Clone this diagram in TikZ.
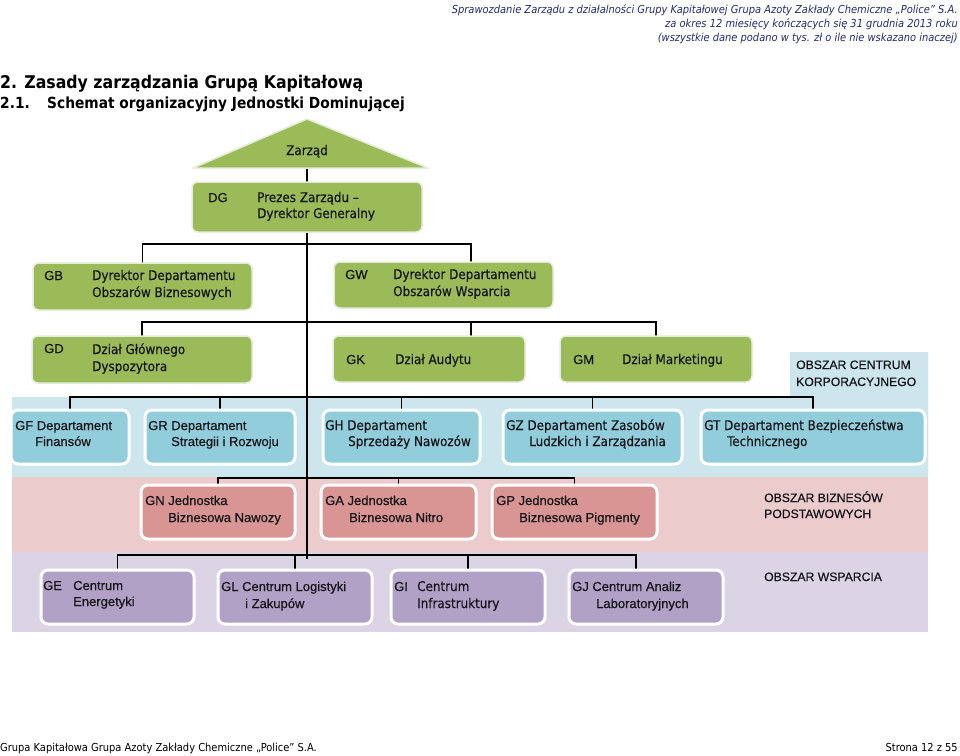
\documentclass[tikz,border=0pt]{standalone}
\usepackage{fontspec}
\newfontfamily\tah[FakeBold=0.35]{DejaVu Sans Condensed}
\newfontfamily\tahN{DejaVu Sans Condensed}
\newfontfamily\ari[FakeBold=0.45]{Liberation Sans}
\definecolor{boxgreen}{RGB}{155,187,89}
\definecolor{greenborder}{RGB}{230,236,218}
\definecolor{bandblue}{RGB}{205,230,237}
\definecolor{bandpink}{RGB}{235,203,204}
\definecolor{bandlav}{RGB}{218,212,228}
\definecolor{boxblue}{RGB}{146,205,220}
\definecolor{boxpink}{RGB}{217,149,148}
\definecolor{boxlav}{RGB}{178,161,199}
\definecolor{txtc}{RGB}{20,20,25}
\definecolor{headc}{RGB}{35,45,110}
\pgfdeclarelayer{bg}
\pgfsetlayers{bg,main}
\tikzset{
  gbox/.style={draw=greenborder, line width=1.5pt, fill=boxgreen, rounded corners=6pt, anchor=north west, inner sep=0pt, outer sep=0pt},
  bbox/.style={draw=white, line width=3pt, fill=boxblue, rounded corners=7pt, anchor=north west, inner sep=0pt, outer sep=0pt},
  pbox/.style={bbox, fill=boxpink},
  lbox/.style={bbox, fill=boxlav},
  conn/.style={line width=1.6pt, black},
  txtT/.style={anchor=base west, inner sep=0pt, font=\tah\fontsize{13.3}{15}\selectfont, text=txtc},
  txtA/.style={anchor=base west, inner sep=0pt, font=\ari\fontsize{13}{15}\selectfont, text=txtc},
  areaT/.style={anchor=base west, inner sep=0pt, font=\ari\fontsize{12.2}{15}\selectfont, text=txtc},
  headT/.style={anchor=base east, inner sep=0pt, font=\tahN\itshape\fontsize{11}{12}\selectfont, text=headc},
}
\begin{document}
\begin{tikzpicture}[x=1pt,y=-1pt]
\useasboundingbox (0,0) rectangle (960,755);

% header
\node[headT] (h1) at (958,13) {Sprawozdanie Zarządu z działalności Grupy Kapitałowej Grupa Azoty Zakłady Chemiczne „Police” S.A.};
\node[headT] (h2) at (958,27) {za okres 12 miesięcy kończących się 31 grudnia 2013 roku};
\node[headT] (h3) at (958,41) {(wszystkie dane podano w tys. zł o ile nie wskazano inaczej)};

% titles
\node[anchor=base west, inner sep=0pt, font=\tahN\bfseries\fontsize{17.5}{20}\selectfont] (t1) at (0,88) {2. Zasady zarządzania Grupą Kapitałową};
\node[anchor=base west, inner sep=0pt, font=\tahN\bfseries\fontsize{15.3}{18}\selectfont] (t2a) at (0,108) {2.1.};
\node[anchor=base west, inner sep=0pt, font=\tahN\bfseries\fontsize{15.3}{18}\selectfont] (t2b) at (47,108) {Schemat organizacyjny Jednostki Dominującej};

% bands
\begin{pgfonlayer}{bg}
\fill[white] (0,0) rectangle (960,755);
\fill[bandblue] (12,397) -- (790,397) -- (790,352) -- (928,352) -- (928,477) -- (12,477) -- cycle;
\fill[bandpink] (12,477) rectangle (928,552);
\fill[bandlav] (12,552) rectangle (928,632);
\end{pgfonlayer}

% triangle Zarzad
\filldraw[fill=boxgreen, draw=greenborder, line width=1.5pt, line join=round] (307,119) -- (428,168) -- (193,168) -- cycle;
\node[txtT, anchor=base] (zar) at (307,155) {Zarząd};
\coordinate (zarb) at (307,168);

% green boxes
\path (192,182) node[gbox, minimum width=230pt, minimum height=50pt] (dg) {};
\path (33,263) node[gbox, minimum width=219pt, minimum height=47pt] (gb) {};
\path (334,262) node[gbox, minimum width=219pt, minimum height=46pt] (gw) {};
\path (32,336) node[gbox, minimum width=220pt, minimum height=47pt] (gd) {};
\path (333,336) node[gbox, minimum width=192pt, minimum height=46pt] (gk) {};
\path (560,336) node[gbox, minimum width=192pt, minimum height=46pt] (gm) {};
% blue boxes
\path (11,410) node[bbox, minimum width=118pt, minimum height=54pt] (gf) {};
\path (145,410) node[bbox, minimum width=150pt, minimum height=54pt] (gr) {};
\path (323,410) node[bbox, minimum width=157pt, minimum height=54pt] (gh) {};
\path (503,410) node[bbox, minimum width=179pt, minimum height=54pt] (gz) {};
\path (701,410) node[bbox, minimum width=224pt, minimum height=54pt] (gt) {};
% pink boxes
\path (141,485) node[pbox, minimum width=154pt, minimum height=54pt] (gn) {};
\path (321,485) node[pbox, minimum width=155pt, minimum height=54pt] (ga) {};
\path (492,485) node[pbox, minimum width=165pt, minimum height=54pt] (gp) {};
% lavender boxes
\path (41,570) node[lbox, minimum width=153pt, minimum height=54pt] (ge) {};
\path (218,570) node[lbox, minimum width=154pt, minimum height=54pt] (gl) {};
\path (391,570) node[lbox, minimum width=154pt, minimum height=54pt] (gi) {};
\path (569,570) node[lbox, minimum width=154pt, minimum height=54pt] (gj) {};

% connector coordinates
\coordinate (b1) at (307,244);
\coordinate (b2) at (307,322);
\coordinate (b3) at (307,397);
\coordinate (b4) at (307,478);
\coordinate (b5) at (307,555);
\coordinate (spineEnd) at (307,559);
\coordinate (gwIn) at (471,262);
\coordinate (gkIn) at (471,336);
\coordinate (gjIn) at (636,570);

% connectors behind boxes
\begin{pgfonlayer}{bg}
\draw[conn] (zarb) -- (dg.north);
\draw[conn] (dg.south) -- (spineEnd);
\draw[conn] (gb.north) |- (b1) -| (gwIn);
\draw[conn] (gd.north) |- (b2) -| (gkIn);
\draw[conn] (b2) -| (gm.north);
\draw[conn] (gf.north) |- (b3) -| (gt.north);
\draw[conn] (gr.north) -- (gr.north |- b3);
\draw[conn] (gh.north) -- (gh.north |- b3);
\draw[conn] (gz.north) -- (gz.north |- b3);
\draw[conn] (gn.north) |- (b4) -| (gp.north);
\draw[conn] (ga.north) -- (ga.north |- b4);
\draw[conn] (ge.north) |- (b5) -| (gjIn);
\draw[conn] (gl.north) -- (gl.north |- b5);
\draw[conn] (gi.north) -- (gi.north |- b5);
\end{pgfonlayer}

% texts green
\node[txtA] (dgc) at (208,202) {DG};
\node[txtT] (dg1) at (257,202) {Prezes Zarządu –};
\node[txtT] (dg2) at (257,218) {Dyrektor Generalny};
\node[txtA] (gbc) at (44,280) {GB};
\node[txtT] (gb1) at (92,280) {Dyrektor Departamentu};
\node[txtT] (gb2) at (92,297) {Obszarów Biznesowych};
\node[txtA] (gwc) at (345,279) {GW};
\node[txtT] (gw1) at (393,279) {Dyrektor Departamentu};
\node[txtT] (gw2) at (393,296) {Obszarów Wsparcia};
\node[txtA] (gdc) at (44,353) {GD};
\node[txtT] (gd1) at (92,354) {Dział Głównego};
\node[txtT] (gd2) at (92,371) {Dyspozytora};
\node[txtA] (gkc) at (346,364) {GK};
\node[txtT] (gk1) at (395,364) {Dział Audytu};
\node[txtA] (gmc) at (573,364) {GM};
\node[txtT] (gm1) at (622,364) {Dział Marketingu};

% area labels
\node[areaT] (ak1) at (796,369) {OBSZAR CENTRUM};
\node[areaT] (ak2) at (796,386) {KORPORACYJNEGO};
\node[areaT] (ab1) at (764,502) {OBSZAR BIZNESÓW};
\node[areaT] (ab2) at (764,518) {PODSTAWOWYCH};
\node[areaT] (aw1) at (764,581) {OBSZAR WSPARCIA};

% blue texts
\node[txtA] (gf1) at (15,430) {GF Departament};
\node[txtA] (gf2) at (35,446) {Finansów};
\node[txtA] (gr1) at (148,430) {GR Departament};
\node[txtA] (gr2) at (171,446) {Strategii i Rozwoju};
\node[txtT] (gh1) at (325,430) {GH Departament};
\node[txtT] (gh2) at (348,446) {Sprzedaży Nawozów};
\node[txtT] (gz1) at (506,430) {GZ Departament Zasobów};
\node[txtT] (gz2) at (529,446) {Ludzkich i Zarządzania};
\node[txtT] (gt1) at (704,430) {GT Departament Bezpieczeństwa};
\node[txtT] (gt2) at (727,446) {Technicznego};

% pink texts
\node[txtA] (gn1) at (145,505) {GN Jednostka};
\node[txtA] (gn2) at (168,522) {Biznesowa Nawozy};
\node[txtA] (ga1) at (325,505) {GA Jednostka};
\node[txtA] (ga2) at (349,522) {Biznesowa Nitro};
\node[txtA] (gp1) at (496,505) {GP Jednostka};
\node[txtA] (gp2) at (519,522) {Biznesowa Pigmenty};

% lavender texts
\node[txtA] (gec) at (43,590) {GE};
\node[txtA] (ge1) at (73,590) {Centrum};
\node[txtA] (ge2) at (73,606) {Energetyki};
\node[txtA] (gl1) at (221,591) {GL Centrum Logistyki};
\node[txtA] (gl2) at (245,608) {i Zakupów};
\node[txtA] (gic) at (394,591) {GI};
\node[txtT] (gi1) at (417,591) {Centrum};
\node[txtT] (gi2) at (417,608) {Infrastruktury};
\node[txtA] (gj1) at (572,591) {GJ Centrum Analiz};
\node[txtA] (gj2) at (596,608) {Laboratoryjnych};

% footer
\node[anchor=base west, inner sep=0pt, font=\tahN\fontsize{11}{13}\selectfont] (f1) at (0,751) {Grupa Kapitałowa Grupa Azoty Zakłady Chemiczne „Police” S.A.};
\node[anchor=base east, inner sep=0pt, font=\tahN\fontsize{11}{13}\selectfont] (f2) at (958,751) {Strona 12 z 55};
\end{tikzpicture}
\end{document}
